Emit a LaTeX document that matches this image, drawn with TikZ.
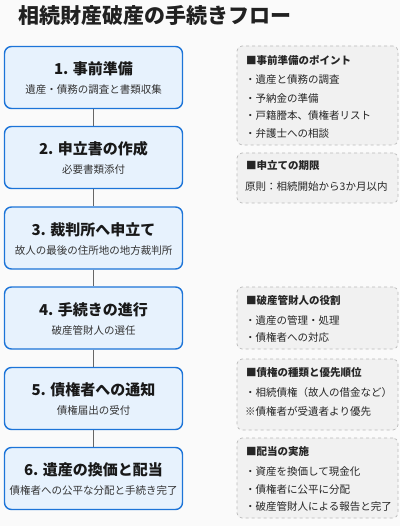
\documentclass[tikz,border=0pt]{standalone}
\usepackage{fontspec}
\setmainfont{Noto Sans CJK JP}
\usetikzlibrary{positioning}
\definecolor{stageblue}{HTML}{1C74D8}
\definecolor{stagefill}{HTML}{E7F2FD}
\definecolor{notefill}{HTML}{F1F1F1}
\definecolor{notegray}{HTML}{BBBBBB}
\definecolor{pagebg}{HTML}{FAFAFA}

\begin{document}
\begin{tikzpicture}[x=1pt,y=-1pt]
   \useasboundingbox[fill=pagebg] (0,0) rectangle (400,526);
   \tikzstyle{stage}=[rectangle, rounded corners=7pt, draw=stageblue, line width=1.4pt, fill=stagefill, minimum width=178pt, minimum height=62pt, inner sep=0pt]
   \tikzstyle{note}=[rectangle, rounded corners=5pt, draw=notegray, dashed, line width=0.7pt, fill=notefill, minimum width=161pt, inner sep=0pt]
   \tikzstyle{line}=[anchor=west, inner sep=0pt, font=\fontsize{10.5}{12}\selectfont, text=black!85]
   \node[anchor=west, inner sep=0pt, font=\fontsize{21}{24}\selectfont\bfseries, text=black!87] (title) at (18,16) {相続財産破産の手続きフロー};
   % steps on the left
   \foreach \i/\y/\name/\what in {1/77.5/{1. 事前準備}/{遺産・債務の調査と書類収集},
                                 2/157.5/{2. 申立書の作成}/{必要書類添付},
                                 3/238/{3. 裁判所へ申立て}/{故人の最後の住所地の地方裁判所},
                                 4/318/{4. 手続きの進行}/{破産管財人の選任},
                                 5/398.5/{5. 債権者への通知}/{債権届出の受付},
                                 6/478.5/{6. 遺産の換価と配当}/{債権者への公平な分配と手続き完了}} {
       \node[stage] (s\i) at (93.5,\y) {};
       \node[inner sep=0pt, font=\fontsize{15}{18}\selectfont\bfseries, text=black!90] (t\i) at ([yshift=8.5pt]s\i.center) {\name};
       \node[inner sep=0pt, font=\fontsize{10.5}{12}\selectfont, text=black!80] (d\i) at ([yshift=-12.5pt]s\i.center) {\what};
   }
   \foreach \i/\j in {1/2,2/3,3/4,4/5,5/6} {
       \draw[black!60, line width=0.9pt] (s\i.south) -- (s\j.north);
   }
   % notes on the right
   \node[note, minimum height=99pt] (n1) at (317.5,95.5) {};
   \node[line, font=\fontsize{10.5}{12}\selectfont\bfseries] (h1) at (246,60) {■事前準備のポイント};
   \node[line] (a1) at (245,80) {・遺産と債務の調査};
   \node[line] (b1) at (245,98) {・予納金の準備};
   \node[line] (c1) at (245,116) {・戸籍謄本、債権者リスト};
   \node[line] (e1) at (245,133.5) {・弁護士への相談};
   \node[note, minimum height=50pt] (n2) at (317.5,178) {};
   \node[line, font=\fontsize{10.5}{12}\selectfont\bfseries] (h2) at (246,166) {■申立ての期限};
   \node[line] (a2) at (245,187) {原則：相続開始から3か月以内};
   \node[note, minimum height=62pt] (n3) at (317.5,318) {};
   \node[line, font=\fontsize{10.5}{12}\selectfont\bfseries] (h3) at (246,300) {■破産管財人の役割};
   \node[line] (a3) at (245,320) {・遺産の管理・処理};
   \node[line] (b3) at (245,338) {・債権者への対応};
   \node[note, minimum height=71pt] (n4) at (317.5,394.5) {};
   \node[line, font=\fontsize{10.5}{12}\selectfont\bfseries] (h4) at (246,373) {■債権の種類と優先順位};
   \node[line] (a4) at (245,393) {・相続債権（故人の借金など）};
   \node[line] (b4) at (245,412) {※債権者が受遺者より優先};
   \node[note, minimum height=80pt] (n5) at (317.5,478) {};
   \node[line, font=\fontsize{10.5}{12}\selectfont\bfseries] (h5) at (246,452) {■配当の実施};
   \node[line] (a5) at (245,472) {・資産を換価して現金化};
   \node[line] (b5) at (245,489.5) {・債権者に公平に分配};
   \node[line] (c5) at (245,507) {・破産管財人による報告と完了};
\end{tikzpicture}
\end{document}
